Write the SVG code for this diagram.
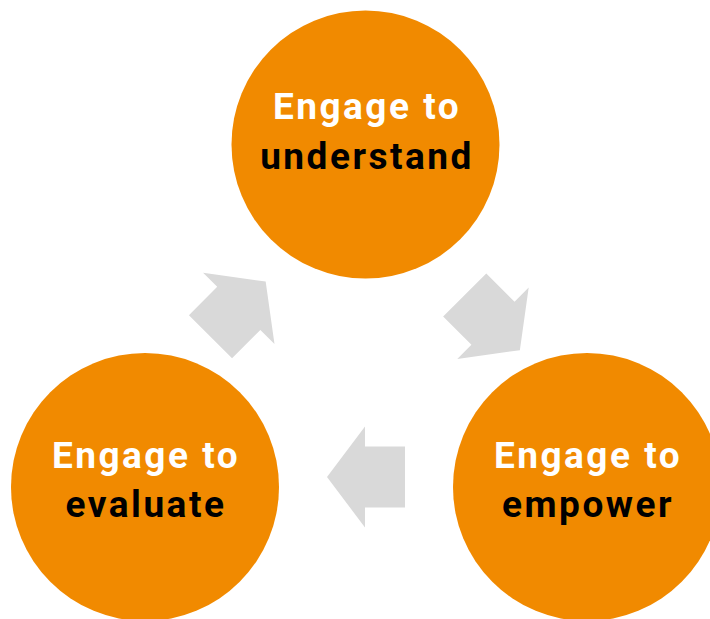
<svg xmlns="http://www.w3.org/2000/svg" width="710" height="619" viewBox="0 0 710 619">
  <style>
    .node { fill: #F18A00; }
    .label { font-family: Roboto, "Liberation Sans", sans-serif; font-weight: bold; font-size: 37px; letter-spacing: 2.5px; text-anchor: middle; }
    .l1 { fill: #FFFFFF; }
    .l2 { fill: #000000; }
    .arrow { fill: #D9D9D9; }
  </style>
  <defs>
    <!-- block arrow pointing along +x, tail centred at the origin -->
    <polygon id="blockArrow" points="0,-30.5 40,-30.5 40,-50.5 78,0 40,50.5 40,30.5 0,30.5"/>
  </defs>

  <g id="connectors">
    <use href="#blockArrow" class="arrow" transform="translate(210.5,336.7) rotate(-45)"/>
    <use href="#blockArrow" class="arrow" transform="translate(464.7,295) rotate(45)"/>
    <use href="#blockArrow" class="arrow" transform="translate(405,477) rotate(180)"/>
  </g>

  <g id="understand">
    <circle class="node" cx="365.5" cy="144.5" r="134"/>
    <text class="label l1" x="367" y="119">Engage to</text>
    <text class="label l2" x="367" y="169">understand</text>
  </g>

  <g id="empower">
    <circle class="node" cx="587" cy="487" r="134"/>
    <text class="label l1" x="588" y="468">Engage to</text>
    <text class="label l2" x="588" y="517">empower</text>
  </g>

  <g id="evaluate">
    <circle class="node" cx="145" cy="487" r="134"/>
    <text class="label l1" x="146" y="468">Engage to</text>
    <text class="label l2" x="146" y="517">evaluate</text>
  </g>
</svg>
